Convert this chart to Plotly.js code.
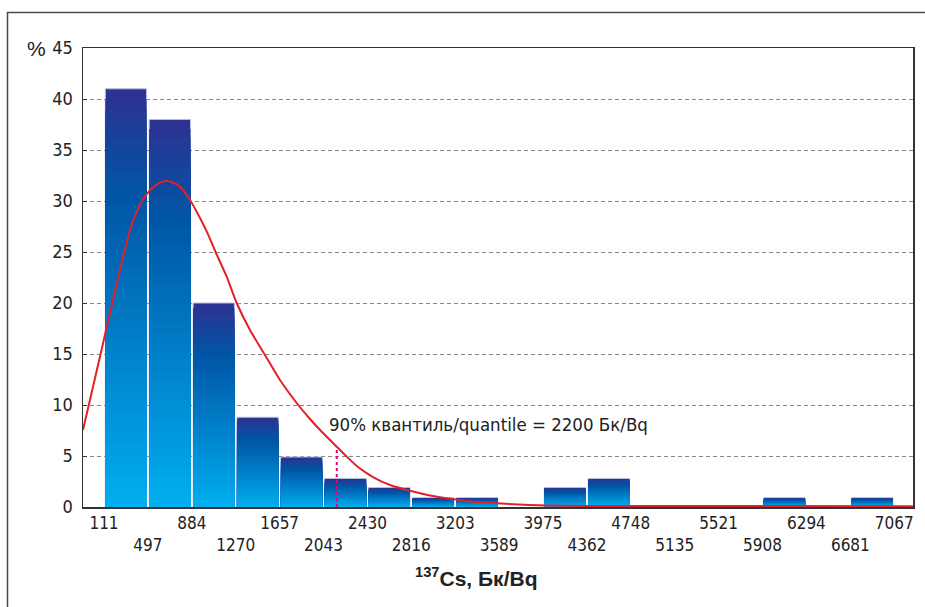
<!DOCTYPE html>
<html><head><meta charset="utf-8">
<script src="https://cdn.plot.ly/plotly-3.0.1.min.js"></script>
<style>html,body{margin:0;padding:0;background:#fff}#chart{width:925px;height:607px}</style>
</head><body><div id="chart"></div>
<script>
// ---- data ----
const binEdges = [111, 497, 884, 1270, 1657, 2043, 2430, 2816, 3203, 3589, 3975, 4362, 4748, 5135, 5521, 5908, 6294, 6681, 7067];
const percentValues = [41, 38, 20, 8.8, 4.9, 2.8, 1.9, 0.9, 0.9, 0, 1.9, 2.8, 0, 0, 0, 0.9, 0, 0.9];
const fitX = [-74, -21, 32, 85, 137, 190, 243, 287, 340, 393, 446, 498, 551, 604, 657, 718, 780, 868, 956, 1026, 1093, 1191, 1279, 1396, 1528, 1660, 1821, 1924, 2030, 2162, 2233, 2347, 2479, 2629, 2831, 2981, 3130, 3333, 3571, 3861, 4151, 4477, 7232];
const fitY = [7.55, 10.1, 12.65, 15.2, 17.75, 20.3, 22.84, 24.9, 27.16, 28.82, 30.0, 30.83, 31.42, 31.8, 31.96, 31.81, 31.4, 30.1, 28.33, 26.76, 25.0, 22.58, 20.0, 17.35, 14.9, 12.45, 10.0, 8.63, 7.35, 5.88, 5.1, 3.92, 2.94, 2.16, 1.52, 1.13, 0.85, 0.54, 0.36, 0.2, 0.12, 0.1, 0.08];
const quantileX = 2160;
const quantileY = 5.9;
const quantileLabel = '90% квантиль/quantile = 2200 Бк/Bq';
const xTitle = '<b><sup>137</sup>Cs, Бк/Bq</b>';
const yUnit = '%';

// ---- styling helpers ----
const tickFont = 'Liberation Sans Narrow, DejaVu Sans Condensed, Arial Narrow, sans-serif';
const stops = [[0, [0, 174, 239]], [0.75, [0, 85, 165]], [1, [46, 49, 146]]];
function colorAt(t) {
  for (let i = 0; i < stops.length - 1; i++) {
    const [t0, c0] = stops[i], [t1, c1] = stops[i + 1];
    if (t <= t1) {
      const f = (t - t0) / (t1 - t0);
      const c = c0.map((v, j) => Math.round(v + (c1[j] - v) * f));
      return 'rgb(' + c.join(',') + ')';
    }
  }
  return 'rgb(46,49,146)';
}
const centers = percentValues.map((v, i) => (binEdges[i] + binEdges[i + 1]) / 2);
const widths = percentValues.map((v, i) => (binEdges[i + 1] - binEdges[i]) * 0.94);

const N = 40;
const traces = [];
for (let k = 0; k < N; k++) {
  const frac = (N - k) / N;
  const t = (N - k - 0.5) / N;
  traces.push({
    type: 'bar', x: centers, y: percentValues.map(v => v * frac), width: widths,
    marker: {
      color: colorAt(t),
      line: { width: k === 0 ? percentValues.map(v => v > 0 ? 1 : 0) : 0, color: '#b8c0e4' }
    },
    hoverinfo: 'skip', showlegend: false
  });
}
traces.push({
  type: 'scatter', mode: 'lines', x: [quantileX, quantileX], y: [0, quantileY],
  line: { color: '#E5007D', width: 2, dash: 'dot' }, hoverinfo: 'skip', showlegend: false
});
traces.push({
  type: 'scatter', mode: 'lines', x: fitX, y: fitY,
  line: { color: '#E3202A', width: 2, shape: 'spline', smoothing: 0.6 }, hoverinfo: 'skip', showlegend: false
});

const L = 83, R = 913, T = 48, B = 507;
const px = v => (v - L) / (R - L);
const py = v => (B - v) / (B - T);

const layout = {
  width: 925, height: 607,
  margin: { l: L, r: 925 - R, t: T, b: 607 - B },
  paper_bgcolor: '#fff', plot_bgcolor: '#fff',
  barmode: 'overlay',
  showlegend: false,
  xaxis: {
    range: [-73.9, 7232.5], tickmode: 'array', tickvals: binEdges,
    ticktext: binEdges.map((v, i) => i % 2 ? '<br>' + v : '' + v),
    showgrid: false, zeroline: false, showline: true, mirror: true,
    linecolor: '#333', linewidth: 1.5, ticks: '',
    tickfont: { family: tickFont, size: 17, color: '#222' }
  },
  yaxis: {
    range: [0, 45], tick0: 0, dtick: 5, ticks: 'inside', ticklen: 4, tickcolor: '#333',
    showgrid: true, gridcolor: '#888', griddash: '4px,3px', gridwidth: 1,
    zeroline: false, showline: true, mirror: true, linecolor: '#333', linewidth: 1.5,
    ticklabelstandoff: 5,
    tickfont: { family: tickFont, size: 18, color: '#222' }
  },
  annotations: [
    { xref: 'paper', yref: 'paper', x: px(36), y: py(48), text: yUnit, showarrow: false,
      xanchor: 'center', yanchor: 'middle', font: { family: 'Liberation Sans, Arial, sans-serif', size: 21, color: '#222' } },
    { xref: 'paper', yref: 'paper', x: px(476), y: py(577), text: xTitle, showarrow: false,
      xanchor: 'center', yanchor: 'middle', font: { family: 'Liberation Sans, Arial, sans-serif', size: 21, color: '#222' } },
    { xref: 'paper', yref: 'paper', x: px(327), y: py(424), text: quantileLabel, showarrow: false,
      xanchor: 'left', yanchor: 'middle', font: { family: 'DejaVu Sans Condensed, sans-serif', size: 18.5, color: '#222' } }
  ],
  shapes: [
    { type: 'path', xref: 'paper', yref: 'paper',
      path: 'M ' + px(7.5) + ',' + py(640) + ' L ' + px(7.5) + ',' + py(12.5) + ' L ' + px(960) + ',' + py(12.5),
      line: { color: '#4a4a4a', width: 1.5 } }
  ]
};

Plotly.newPlot('chart', traces, layout, { displayModeBar: false, staticPlot: true });
</script>
</body></html>
